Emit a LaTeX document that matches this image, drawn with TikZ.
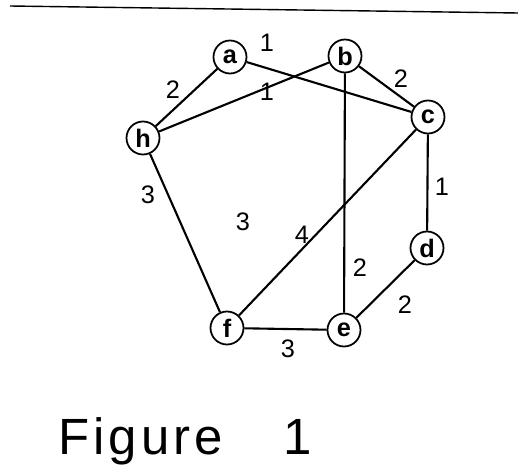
\documentclass[tikz,border=0pt]{standalone}
\usepackage{fontspec}
\setmainfont{Liberation Sans}
\newfontfamily\capfont[LetterSpace=8]{Liberation Sans}
\usetikzlibrary{positioning}
\tikzset{
  vtx/.style={draw, circle, line width=1pt, minimum size=0.66cm,
              inner sep=0pt, font=\bfseries\Large},
  edg/.style={line width=1.2pt},
  wgt/.style={font=\Large, inner sep=1pt},
}

\begin{document}
\begin{tikzpicture}[x=0.02cm, y=-0.02cm]
    \useasboundingbox (0,0) rectangle (518,473);
    \draw[line width=0.8pt] (10,6) -- (518,13);

    % vertices
    \node[vtx] (a) at (230,57)  {a};
    \node[vtx] (b) at (345,56)  {b};
    \node[vtx] (c) at (428,117) {c};
    \node[vtx] (h) at (143,138) {h};
    \node[vtx] (d) at (427,248) {d};
    \node[vtx] (f) at (227,328) {f};
    \node[vtx] (e) at (344,330) {e};

    % edges
    \draw[edg] (a) -- (h);
    \draw[edg] (a) -- (c);
    \draw[edg] (b) -- (h);
    \draw[edg] (b) -- (c);
    \draw[edg] (b) -- (e);
    \draw[edg] (c) -- (d);
    \draw[edg] (c) -- (f);
    \draw[edg] (h) -- (f);
    \draw[edg] (d) -- (e);
    \draw[edg] (f) -- (e);

    % weights
    \node[wgt] (wah) at (173,90)  {2};
    \node[wgt] (wac) at (267,43)  {1};
    \node[wgt] (wbh) at (267,92)  {1};
    \node[wgt] (wbc) at (401,79)  {2};
    \node[wgt] (whf) at (148,195) {3};
    \node[wgt] (wx)  at (243,222) {3};
    \node[wgt] (wcf) at (302,235) {4};
    \node[wgt] (wbe) at (360,268) {2};
    \node[wgt] (wcd) at (442,187) {1};
    \node[wgt] (wde) at (405,305) {2};
    \node[wgt] (wfe) at (288,349) {3};

    \node[anchor=base west, inner sep=0pt, font=\capfont\fontsize{29}{31}\selectfont]
      (cap) at (58,455) {Figure\hspace{1.2cm}1};
  \end{tikzpicture}
\end{document}
